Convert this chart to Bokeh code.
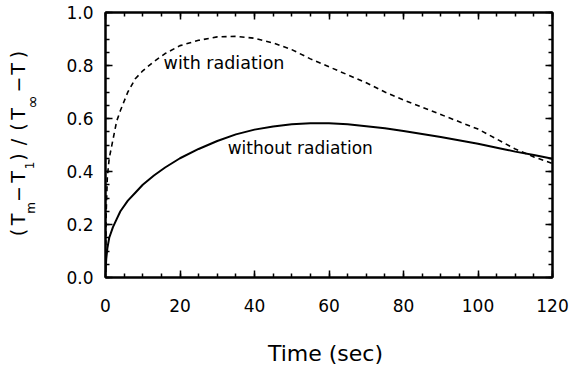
from bokeh.plotting import figure
from bokeh.layouts import row
from bokeh.models import (Range1d, FixedTicker, PrintfTickFormatter, LinearAxis,
                          Label, ColumnDataSource)
from bokeh.core.properties import value
from bokeh.embed import file_html
from bokeh.resources import INLINE
import math

# --- data -------------------------------------------------------------
t_without = [0, 0.2, 0.5, 1, 2, 3, 4, 6, 8, 10, 13, 16, 20, 25, 30, 35, 40,
             45, 50, 55, 60, 65, 70, 75, 80, 90, 100, 106, 110, 115, 120]
theta_without = [0.02, 0.07, 0.11, 0.15, 0.19, 0.22, 0.25, 0.29, 0.32, 0.35,
                 0.385, 0.415, 0.45, 0.485, 0.515, 0.54, 0.558, 0.57, 0.578,
                 0.582, 0.582, 0.578, 0.571, 0.563, 0.553, 0.53, 0.505, 0.487,
                 0.475, 0.462, 0.448]

t_with = [0, 0.2, 0.5, 1, 2, 3, 4, 6, 8, 10, 13, 16, 20, 25, 30, 35, 40, 45,
          50, 55, 60, 65, 70, 75, 80, 90, 100, 110, 115, 120]
theta_with = [0.02, 0.25, 0.38, 0.45, 0.52, 0.59, 0.63, 0.70, 0.75, 0.78,
              0.815, 0.845, 0.875, 0.895, 0.908, 0.91, 0.903, 0.885, 0.86,
              0.825, 0.795, 0.765, 0.735, 0.70, 0.67, 0.615, 0.56, 0.485,
              0.455, 0.43]

x_ticks = [0, 20, 40, 60, 80, 100, 120]
x_minor = [v for v in range(0, 121, 5)]
y_ticks = [0.0, 0.2, 0.4, 0.6, 0.8, 1.0]
y_minor = [round(0.05 * i, 2) for i in range(21)]

# y-axis title pieces: text, baseline x, centre y (pixels), font size
title_text = ["(", "T", "m", "\u2212", "T", "1", ")", "/", "(", "T", "\u221e",
              "\u2212", "T", ")"]
title_x = [17, 17, 30.5, 17, 17, 29, 17, 17, 17, 17, 32, 17, 17, 17]
title_y = [232, 219, 207.5, 193.5, 176.5, 165, 156.5, 141.5, 126.5, 113.5,
           101.5, 84, 68.5, 54]
title_size = [19, 19, 12, 19, 19, 12, 19, 19, 19, 19, 16, 19, 19, 19]

FONT = "DejaVu Sans"
TITLE_W = 50
W, H = 573, 372
TOP, BOTTOM = 12, 277          # frame edges in page pixels

# --- narrow strip holding the rotated y-axis title --------------------
# its frame spans the same rows as the chart frame, so y is page pixels
strip = figure(width=TITLE_W, height=H, output_backend="svg",
               toolbar_location=None, x_range=Range1d(0, TITLE_W),
               y_range=Range1d(BOTTOM, TOP), min_border_left=0,
               min_border_right=0, min_border_top=TOP,
               min_border_bottom=H - BOTTOM)
strip.frame_width = TITLE_W
strip.frame_height = BOTTOM - TOP
strip.axis.visible = False
strip.grid.visible = False
strip.outline_line_color = None
strip.background_fill_color = "white"
strip.border_fill_color = "white"
for size in sorted(set(title_size)):
    idx = [i for i, s in enumerate(title_size) if s == size]
    src = ColumnDataSource(dict(text=[title_text[i] for i in idx],
                                x=[title_x[i] for i in idx],
                                y=[title_y[i] for i in idx]))
    strip.text(x="x", y="y", text="text", source=src, angle=math.pi / 2,
               text_align="center", text_baseline="alphabetic",
               text_font=value(FONT), text_font_size=value(f"{size}px"),
               text_color="black")

# --- main chart -------------------------------------------------------
p = figure(width=W - TITLE_W, height=H, output_backend="svg",
           toolbar_location=None,
           x_range=Range1d(0, 120), y_range=Range1d(0, 1.0),
           min_border_left=105 - TITLE_W, min_border_right=21,
           min_border_top=TOP, min_border_bottom=H - BOTTOM)
p.frame_width = 447
p.frame_height = BOTTOM - TOP
p.background_fill_color = "white"
p.border_fill_color = "white"
p.outline_line_color = "black"
p.outline_line_width = 2
p.grid.visible = False

p.line(t_without, theta_without, line_color="black", line_width=2)
p.line(t_with, theta_with, line_color="black", line_width=1.6,
       line_dash="5 4")

def style_axis(ax, show_labels):
    ax.axis_line_width = 2
    ax.major_tick_in = 7
    ax.major_tick_out = 0
    ax.minor_tick_in = 4
    ax.minor_tick_out = 0
    ax.major_tick_line_width = 1.5
    ax.minor_tick_line_width = 1.5
    if show_labels:
        ax.major_label_text_font = FONT
        ax.major_label_text_font_size = "17px"
        ax.major_label_text_color = "black"
    else:
        ax.major_label_text_font_size = "1px"
        ax.major_label_text_color = None
        ax.major_label_standoff = 0

p.xaxis.ticker = FixedTicker(ticks=x_ticks, minor_ticks=x_minor)
p.yaxis.ticker = FixedTicker(ticks=y_ticks, minor_ticks=y_minor)
p.yaxis.formatter = PrintfTickFormatter(format="%.1f")
style_axis(p.xaxis[0], True)
style_axis(p.yaxis[0], True)
p.xaxis.major_label_standoff = 21
p.yaxis.major_label_standoff = 12

p.xaxis.axis_label = "Time  (sec)"
p.xaxis.axis_label_text_font = FONT
p.xaxis.axis_label_text_font_size = "22px"
p.xaxis.axis_label_text_font_style = "normal"
p.xaxis.axis_label_text_color = "black"
p.xaxis.axis_label_standoff = 26

top = LinearAxis(ticker=FixedTicker(ticks=x_ticks, minor_ticks=x_minor))
right = LinearAxis(ticker=FixedTicker(ticks=y_ticks, minor_ticks=y_minor))
style_axis(top, False)
style_axis(right, False)
p.add_layout(top, "above")
p.add_layout(right, "right")

# curve annotations
for txt, x, y, size in [("with radiation", 15.6, 0.808, "17.5px"),
                        ("without radiation", 32.8, 0.49, "17px")]:
    p.add_layout(Label(x=x, y=y, text=txt, text_font=FONT,
                       text_font_size=size, text_baseline="middle",
                       text_align="left", text_color="black"))

layout = row(strip, p, spacing=0)
open("out.html", "w").write(file_html(layout, INLINE))
